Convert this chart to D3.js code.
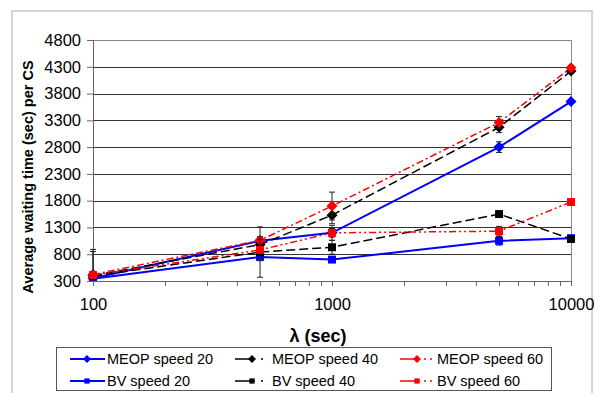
<!DOCTYPE html>
<html>
<head>
<meta charset="utf-8">
<script src="https://cdn.jsdelivr.net/npm/d3@7"></script>
<style>
  body { margin: 0; background: #fff; }
  text { font-family: "Liberation Sans", Arial, sans-serif; }
</style>
</head>
<body>
<script>
// data
var lambdas = [100, 500, 1000, 5000, 10000];
var meop20 = [350, 1050, 1200, 2800, 3650];
var meop40 = [400, 980, 1530, 3170, 4220];
var meop60 = [420, 1060, 1700, 3260, 4280];
var bv20 = [340, 750, 700, 1050, 1100];
var bv40 = [390, 840, 930, 1550, 1085];
var bv60 = [410, 880, 1200, 1230, 1775];
// error bar half widths
var meop20Err = [30, 60, 80, 100, 30];
var meop40Err = [40, 100, 160, 100, 40];
var meop60Err = [60, 70, 260, 110, 40];
var bv20Err = [30, 60, 40, 80, 30];
var bv40Err = [500, 470, 130, 40, 30];
var bv60Err = [440, 200, 140, 90, 30];
var yTicks = [300, 800, 1300, 1800, 2300, 2800, 3300, 3800, 4300, 4800];
var xTicks = [100, 1000, 10000];

var series = [
  {name: "MEOP speed 20", vals: meop20, err: meop20Err, color: "#0000ff", dash: null, shape: "diamond", w: 2},
  {name: "MEOP speed 40", vals: meop40, err: meop40Err, color: "#000000", dash: "9,4", shape: "diamond", w: 1.5},
  {name: "MEOP speed 60", vals: meop60, err: meop60Err, color: "#ff0000", dash: "7,3,2,3", shape: "diamond", w: 1.5},
  {name: "BV speed 20", vals: bv20, err: bv20Err, color: "#0000ff", dash: null, shape: "square", w: 2},
  {name: "BV speed 40", vals: bv40, err: bv40Err, color: "#000000", dash: "9,4", shape: "square", w: 1.5},
  {name: "BV speed 60", vals: bv60, err: bv60Err, color: "#ff0000", dash: "7,3,2,3,2,3", shape: "square", w: 1.5}
];

var W = 595, H = 393;
var margin = {top: 40, left: 93, right: 24, bottom: 112};
var pw = W - margin.left - margin.right;
var ph = H - margin.top - margin.bottom;

var svg = d3.select("body").append("svg")
  .attr("width", W).attr("height", H);

// outer chart frame
svg.append("rect")
  .attr("x", 12).attr("y", 11).attr("width", 580).attr("height", 400)
  .attr("fill", "none").attr("stroke", "#c8c8c8").attr("stroke-width", 1.5);

var g = svg.append("g")
  .attr("transform", "translate(" + margin.left + "," + margin.top + ")");

var x = d3.scaleLog().domain([100, 10000]).range([0, pw]);
var y = d3.scaleLinear().domain([300, 4800]).range([ph, 0]);

g.append("defs").append("clipPath").attr("id", "clip")
  .append("rect").attr("x", -10).attr("y", 0).attr("width", pw + 20).attr("height", ph);

// gridlines
g.selectAll(".grid").data(yTicks).enter().append("line")
  .attr("x1", 0).attr("x2", pw)
  .attr("y1", function(d) { return Math.round(y(d)) + 0.5; })
  .attr("y2", function(d) { return Math.round(y(d)) + 0.5; })
  .attr("stroke", function(d) { return d == 4800 ? "#888" : "#333"; })
  .attr("stroke-width", 1);

// right border
g.append("line").attr("x1", pw + 0.5).attr("x2", pw + 0.5).attr("y1", 0).attr("y2", ph)
  .attr("stroke", "#888");

// y axis
var yAxis = g.append("g")
  .call(d3.axisLeft(y).tickValues(yTicks).tickSize(6).tickPadding(6).tickFormat(d3.format("d")));
yAxis.select(".domain").attr("stroke", "#666");
yAxis.selectAll(".tick line").attr("stroke", "#666");
yAxis.selectAll("text").attr("font-size", "16.5px").attr("fill", "#000")
  .attr("font-family", "Liberation Sans, Arial, sans-serif");

// x axis, with log minor ticks
var minor = [];
[100, 1000].forEach(function(b) { for (var k = 1; k <= 10; k++) minor.push(b * k); });
minor = minor.filter(function(v, i, a) { return a.indexOf(v) == i; });
var xAxis = g.append("g").attr("transform", "translate(0," + ph + ")")
  .call(d3.axisBottom(x).tickValues(minor).tickSize(5).tickPadding(12)
    .tickFormat(function(d) { return xTicks.indexOf(d) >= 0 ? d : ""; }));
xAxis.select(".domain").attr("stroke", "#666");
xAxis.selectAll(".tick line").attr("stroke", "#666");
xAxis.selectAll("text").attr("font-size", "16.5px").attr("fill", "#000")
  .attr("font-family", "Liberation Sans, Arial, sans-serif");

// axis titles
svg.append("text")
  .attr("transform", "translate(33,177) rotate(-90)")
  .attr("text-anchor", "middle").attr("font-weight", "bold").attr("font-size", "14.5px")
  .text("Average waiting time (sec) per CS");
svg.append("text")
  .attr("x", 318).attr("y", 342)
  .attr("text-anchor", "middle").attr("font-weight", "bold").attr("font-size", "18px")
  .text("λ (sec)");

function marker(sel, shape, color, size) {
  if (shape == "diamond") {
    sel.append("path")
      .attr("d", "M0," + (-size) + "L" + size + ",0L0," + size + "L" + (-size) + ",0Z")
      .attr("fill", color);
  } else {
    sel.append("rect")
      .attr("x", -size * 0.75).attr("y", -size * 0.75)
      .attr("width", size * 1.5).attr("height", size * 1.5)
      .attr("fill", color);
  }
}

var plot = g.append("g").attr("clip-path", "url(#clip)");
var line = d3.line()
  .x(function(d) { return x(d[0]); })
  .y(function(d) { return y(d[1]); });

series.forEach(function(s) {
  var pts = lambdas.map(function(l, i) { return [l, s.vals[i], s.err[i]]; });
  // error bars
  var eb = plot.append("g").attr("stroke", "#222").attr("stroke-width", 1);
  pts.forEach(function(p) {
    var cx = x(p[0]);
    eb.append("line").attr("x1", cx).attr("x2", cx)
      .attr("y1", y(p[1] - p[2])).attr("y2", y(p[1] + p[2]));
    [p[1] - p[2], p[1] + p[2]].forEach(function(v) {
      eb.append("line").attr("x1", cx - 3).attr("x2", cx + 3)
        .attr("y1", y(v)).attr("y2", y(v));
    });
  });
  plot.append("path").datum(pts)
    .attr("d", line)
    .attr("fill", "none")
    .attr("stroke", s.color)
    .attr("stroke-width", s.w)
    .attr("stroke-dasharray", s.dash);
  pts.forEach(function(p) {
    var m = plot.append("g").attr("transform", "translate(" + x(p[0]) + "," + y(p[1]) + ")");
    marker(m, s.shape, s.color, s.shape == "diamond" ? 5.5 : 5.3);
  });
});

// legend
var leg = svg.append("g");
leg.append("rect")
  .attr("x", 56.5).attr("y", 347.5).attr("width", 495).attr("height", 43)
  .attr("fill", "#fff").attr("stroke", "#555");
var colX = [70, 235, 400];
var rowY = [359, 381];
series.forEach(function(s, i) {
  var cx = colX[i % 3], cy = rowY[Math.floor(i / 3)];
  var it = leg.append("g").attr("transform", "translate(" + cx + "," + cy + ")");
  it.append("line").attr("x1", 0).attr("x2", 35).attr("y1", 0).attr("y2", 0)
    .attr("stroke", s.color).attr("stroke-width", s.w)
    .attr("stroke-dasharray", s.dash ? (s.color == "#ff0000" ? "20,4,2,4,2,20" : "20,6,2,20") : null);
  var m = it.append("g").attr("transform", "translate(17,0)");
  marker(m, s.shape, s.color, s.shape == "diamond" ? 4 : 3.5);
  it.append("text").attr("x", 37).attr("y", 5)
    .attr("font-size", "14.5px").text(s.name);
});
</script>
</body>
</html>
